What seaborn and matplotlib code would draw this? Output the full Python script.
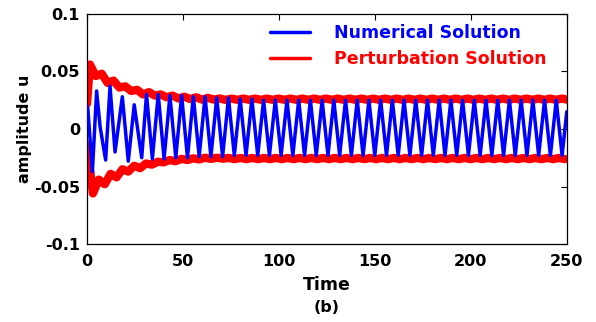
import numpy as np
import pandas as pd
import seaborn as sns
import matplotlib
matplotlib.use("Agg")
import matplotlib.pyplot as plt
from matplotlib.lines import Line2D

# ---------------- data ----------------
# Numerical solution: early irregular extrema (time, amplitude)
blue_early_t = [0.0, 0.4, 2.8, 5.0, 6.8, 9.7, 12.0, 14.6, 18.4, 21.5, 24.6, 28.5]
blue_early_u = [0.020, 0.018, -0.037, 0.033, 0.002, -0.027, 0.037, -0.020, 0.028, -0.028, 0.021, -0.025]
# later steady oscillation: peaks and troughs, one per cycle
blue_period = 6.1
blue_first_peak = 31.0
blue_peaks = [0.030, 0.030, 0.029, 0.029, 0.028, 0.028, 0.027, 0.027, 0.026, 0.026,
              0.025, 0.025, 0.025, 0.025, 0.025, 0.025, 0.025, 0.025, 0.025, 0.025,
              0.025, 0.025, 0.025, 0.025, 0.025, 0.025, 0.025, 0.025, 0.025, 0.025,
              0.025, 0.025, 0.025, 0.025, 0.025, 0.025]
blue_troughs = [-0.026, -0.026, -0.025, -0.025, -0.024, -0.024, -0.024, -0.023, -0.023, -0.023,
                -0.023, -0.023, -0.023, -0.023, -0.023, -0.023, -0.023, -0.023, -0.023, -0.023,
                -0.023, -0.023, -0.023, -0.023, -0.023, -0.023, -0.023, -0.023, -0.023, -0.023,
                -0.023, -0.023, -0.023, -0.023, -0.023, -0.023]
blue_end = (250.0, 0.015)

# Perturbation solution: upper / lower envelope (bump, dip alternating)
red_step = 3.075
red_up_t0, red_up_u0 = 0.0, 0.022      # starting value at t = 0
red_up_start = 1.5
red_up_early = [0.056, 0.046, 0.048, 0.040, 0.042, 0.036, 0.037, 0.033, 0.034, 0.030,
                0.032, 0.029, 0.030, 0.0275, 0.029, 0.0265, 0.028, 0.026, 0.0275, 0.0255,
                0.027, 0.0255, 0.0265, 0.0252]
red_up_tail = [0.0264, 0.0253] * 29
red_lo_start = 0.0
red_lo_early = [-0.014, -0.056, -0.044, -0.048, -0.039, -0.042, -0.035, -0.037, -0.032, -0.034,
                -0.030, -0.031, -0.0285, -0.029, -0.027, -0.028, -0.026, -0.027, -0.0255, -0.0265,
                -0.025, -0.026, -0.025, -0.0258]
red_lo_tail = [-0.0252, -0.0262] * 29

x_ticks = [0, 50, 100, 150, 200, 250]
y_ticks = [-0.1, -0.05, 0, 0.05, 0.1]
y_tick_labels = ["-0.1", "-0.05", "0", "0.05", "0.1"]
labels = ["Numerical Solution", "Perturbation Solution"]
colors = ["#0000ff", "#ff0000"]

# ---------------- build series ----------------
bt, bu = list(blue_early_t), list(blue_early_u)
for k, (p, q) in enumerate(zip(blue_peaks, blue_troughs)):
    tp = blue_first_peak + k * blue_period
    bt += [tp, tp + blue_period / 2]
    bu += [p, q]
bt.append(blue_end[0]); bu.append(blue_end[1])
blue_df = pd.DataFrame({"t": bt, "u": bu})

up_vals = red_up_early + red_up_tail
lo_vals = red_lo_early + red_lo_tail
up_t = [red_up_t0] + list(red_up_start + red_step * np.arange(len(up_vals)))
up_df = pd.DataFrame({"t": up_t, "u": [red_up_u0] + up_vals})
lo_df = pd.DataFrame({"t": red_lo_start + red_step * np.arange(len(lo_vals)), "u": lo_vals})

# ---------------- plot ----------------
sns.set_style("white")
plt.rcParams["font.family"] = ["DejaVu Sans"]
plt.rcParams["font.weight"] = "bold"
plt.rcParams["text.color"] = "black"
plt.rcParams["axes.labelcolor"] = "black"
plt.rcParams["xtick.color"] = "black"
plt.rcParams["ytick.color"] = "black"

fig = plt.figure(figsize=(5.96, 3.22), dpi=100)
ax = fig.add_axes([0.146, 0.242, 0.805, 0.715])

for df in (up_df, lo_df):
    sns.lineplot(data=df, x="t", y="u", ax=ax, sort=False, estimator=None,
                 color=colors[1], lw=6.0, solid_capstyle="round",
                 solid_joinstyle="round", zorder=2)
sns.lineplot(data=blue_df, x="t", y="u", ax=ax, sort=False, estimator=None,
             color=colors[0], lw=2.5, zorder=3)

ax.set_xlim(0, 250)
ax.set_ylim(-0.1, 0.1)
ax.set_xticks(x_ticks)
ax.set_xticklabels([str(v) for v in x_ticks])
ax.set_yticks(y_ticks)
ax.set_yticklabels(y_tick_labels)
ax.tick_params(direction="in", top=True, right=True, length=4, width=0.8,
               labelsize=11.5, colors="black")
ax.tick_params(axis="x", pad=7)
ax.tick_params(axis="y", pad=5)
for lab in ax.get_xticklabels() + ax.get_yticklabels():
    lab.set_fontweight("bold")
for s in ax.spines.values():
    s.set_visible(True)
    s.set_color("black")
    s.set_linewidth(0.9)

ax.set_xlabel("Time", fontsize=12.5, fontweight="bold", color="black")
ax.set_ylabel("amplitude u", fontsize=11.5, fontweight="bold", color="black")
ax.xaxis.set_label_coords(0.5, -0.14)
ax.yaxis.set_label_coords(-0.115, 0.5)

handles = [Line2D([], [], color=c, lw=2.5) for c in colors]
leg = ax.legend(handles, labels, frameon=False, loc="upper right",
                bbox_to_anchor=(0.99, 1.025), handlelength=2.3, handletextpad=1.4,
                labelspacing=0.5, prop={"weight": "bold", "size": 12.5})
for txt, c in zip(leg.get_texts(), colors):
    txt.set_color(c)

fig.text(327 / 596, 1 - 307 / 322, "(b)", ha="center", va="center",
         fontsize=11.5, fontweight="bold", color="black")

fig.savefig("out.png", dpi=100)
